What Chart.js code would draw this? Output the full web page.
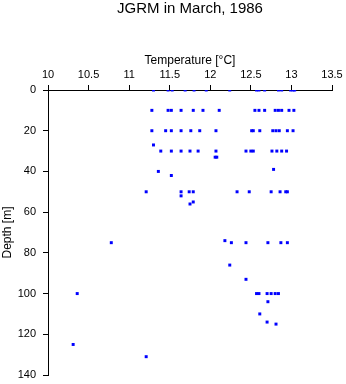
<!DOCTYPE html>
<html>
<head>
<meta charset="utf-8">
<script src="https://cdn.jsdelivr.net/npm/chart.js@4.4.1/dist/chart.umd.min.js"></script>
<style>
  body { margin: 0; background: #fff; }
</style>
</head>
<body>
<canvas id="perfil" width="346" height="384"></canvas>
<script>
// Temperaturas por profundidad (m)
const temp0 = [11.30, 11.48, 11.53, 11.69, 11.80, 11.95, 12.24, 12.57, 12.60, 12.67, 12.84, 12.88, 12.99, 13.02, 13.04];
const temp10 = [11.28, 11.48, 11.52, 11.64, 11.79, 11.91, 12.11, 12.55, 12.60, 12.67, 12.80, 12.84, 12.88, 12.97, 13.03];
const temp20 = [11.28, 11.45, 11.52, 11.64, 11.76, 11.87, 12.07, 12.51, 12.53, 12.61, 12.77, 12.81, 12.85, 12.95, 13.02];
const temp30 = [11.39, 11.52, 11.64, 11.75, 11.85, 12.07, 12.44, 12.50, 12.53, 12.76, 12.82, 12.88, 12.94];
const temp50 = [11.21, 11.64, 11.74, 11.79, 12.33, 12.48, 12.75, 12.86, 12.93, 12.95];
const temp75 = [10.78, 12.26, 12.44, 12.71, 12.87, 12.95];
const temp100 = [10.36, 12.57, 12.60, 12.70, 12.75, 12.80, 12.84];

// Puntos sueltos: profundidad y temperatura
const otrasProf = [27, 33, 33, 39, 40, 42, 52, 55, 56, 74, 86, 93, 104, 110, 114, 115, 125, 131];
const otrasTemp = [11.30, 12.06, 12.08, 12.78, 11.36, 11.52, 11.64, 11.79, 11.75, 12.18, 12.24, 12.44, 12.71, 12.61, 12.70, 12.81, 10.31, 11.21];

const tempTicks = [10, 10.5, 11, 11.5, 12, 12.5, 13, 13.5];
const profTicks = [0, 20, 40, 60, 80, 100, 120, 140];

// Armar los puntos {x: temperatura, y: profundidad}
const niveles = [[0, temp0], [10, temp10], [20, temp20], [30, temp30], [50, temp50], [75, temp75], [100, temp100]];
const puntos = [];
niveles.forEach(([prof, temps]) => {
  temps.forEach((t) => puntos.push({ x: t, y: prof }));
});
otrasProf.forEach((prof, i) => puntos.push({ x: otrasTemp[i], y: prof }));

const fuente = "'Liberation Sans', Arial, Helvetica, sans-serif";

const ctx = document.getElementById("perfil").getContext("2d");
new Chart(ctx, {
  type: "scatter",
  data: {
    datasets: [
      {
        data: puntos,
        pointStyle: "rect",
        pointRadius: 2.1,
        pointBorderWidth: 0,
        backgroundColor: "#0000ff",
        borderColor: "#0000ff",
      },
    ],
  },
  options: {
    responsive: false,
    animation: false,
    devicePixelRatio: 1,
    layout: { padding: { left: 0, right: 14, top: 0, bottom: 9 } },
    plugins: {
      legend: { display: false },
      tooltip: { enabled: false },
      title: {
        display: true,
        text: "JGRM in March, 1986",
        fullSize: false,
        color: "#000",
        font: { family: fuente, size: 15, weight: "normal" },
        padding: { top: 0, bottom: 34 },
      },
    },
    scales: {
      x: {
        type: "linear",
        position: "top",
        min: tempTicks[0],
        max: tempTicks[tempTicks.length - 1],
        afterBuildTicks: (scale) => {
          scale.ticks = tempTicks.map((v) => ({ value: v }));
        },
        afterFit: (scale) => {
          scale.height = 38;
          // sin relleno automático para las etiquetas de los extremos
          scale.paddingLeft = 0;
          scale.paddingRight = 0;
        },
        ticks: {
          color: "#000",
          padding: 3,
          maxRotation: 0,
          font: { family: fuente, size: 11 },
          callback: (v) => String(v),
        },
        grid: { drawOnChartArea: false, tickLength: 5, color: "#000" },
        border: { color: "#000", width: 1 },
        title: {
          display: true,
          text: "Temperature [°C]",
          color: "#000",
          padding: { top: 1, bottom: 0 },
          font: { family: fuente, size: 12 },
        },
      },
      y: {
        type: "linear",
        reverse: true,
        min: profTicks[0],
        max: profTicks[profTicks.length - 1],
        afterBuildTicks: (scale) => {
          scale.ticks = profTicks.map((v) => ({ value: v }));
        },
        afterFit: (scale) => {
          scale.width = 48;
          scale.paddingTop = 0;
          scale.paddingBottom = 0;
        },
        ticks: {
          color: "#000",
          padding: 7,
          font: { family: fuente, size: 11 },
          callback: (v) => String(v),
        },
        grid: { drawOnChartArea: false, tickLength: 5, color: "#000" },
        border: { color: "#000", width: 1 },
        title: {
          display: true,
          text: "Depth [m]",
          color: "#000",
          padding: { top: 0, bottom: 0 },
          font: { family: fuente, size: 12 },
        },
      },
    },
  },
});
</script>
</body>
</html>
